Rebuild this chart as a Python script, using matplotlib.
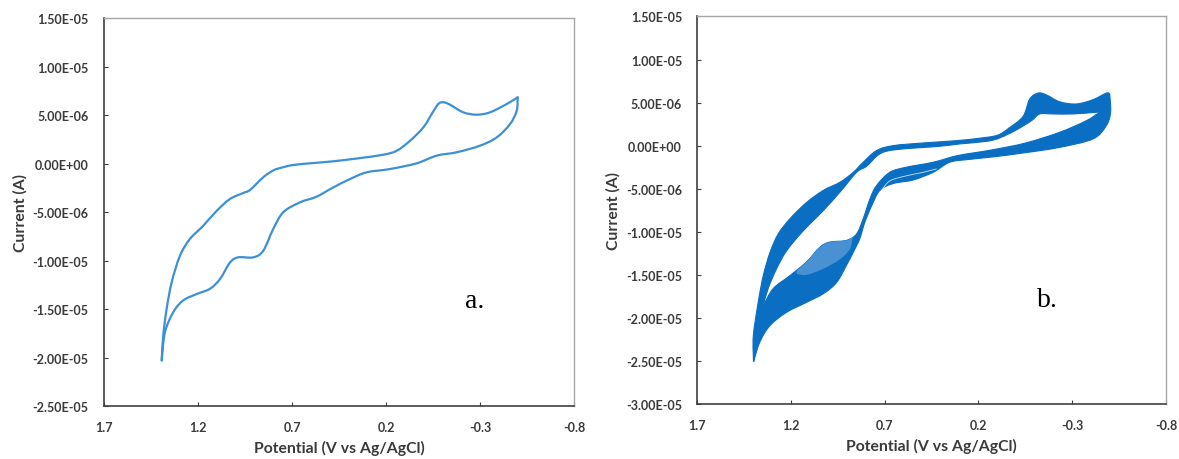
import matplotlib
matplotlib.use("Agg")
import matplotlib.pyplot as plt
from matplotlib.path import Path
from matplotlib.patches import PathPatch
import numpy as np

# ---------------- data (potential in V, current in microamps) ----------------
# (a) single cyclic voltammogram
a_fwd_v = [1.393, 1.385, 1.367, 1.34, 1.296, 1.243, 1.172, 1.1, 1.03, 0.959, 0.923,
           0.853, 0.8, 0.764, 0.693, 0.58, 0.48, 0.35, 0.214, 0.143, 0.072, 0.001,
           -0.043, -0.078, -0.105, -0.14, -0.211, -0.282, -0.353, -0.442, -0.5]
a_fwd_i = [-20.3, -17.75, -15.0, -12.24, -9.5, -7.77, -6.4, -4.85, -3.64, -3.02, -2.7,
           -1.4, -0.7, -0.45, -0.13, 0.08, 0.25, 0.55, 0.93, 1.34, 2.37, 3.76,
           5.13, 6.16, 6.34, 6.09, 5.3, 5.06, 5.3, 6.16, 6.85]
a_rev_v = [-0.5, -0.495, -0.46, -0.389, -0.3, -0.176, -0.069, 0.037, 0.179, 0.303,
           0.391, 0.48, 0.569, 0.657, 0.746, 0.8, 0.853, 0.906, 0.986, 1.03, 1.083,
           1.136, 1.207, 1.278, 1.331, 1.376, 1.393]
a_rev_i = [6.85, 5.47, 4.1, 2.72, 1.86, 1.18, 0.83, 0.04, -0.55, -0.89,
           -1.58, -2.44, -3.4, -3.98, -5.0, -6.74, -8.98, -9.66, -9.66, -10.2, -11.9,
           -12.9, -13.45, -14.1, -15.3, -17.4, -20.3]

# (b) repeated cycling: edges of the band traced by all scans
b_up_outer_v = [1.40, 1.401, 1.375, 1.348, 1.312, 1.268, 1.206, 1.117, 1.028, 0.939,
                0.868, 0.815, 0.744, 0.655, 0.495, 0.317, 0.20, 0.10, 0.04, -0.038,
                -0.073, -0.118, -0.162, -0.233, -0.322, -0.411, -0.482, -0.50]
b_up_outer_i = [-25.1, -22.1, -18.2, -15.1, -12.4, -10.25, -8.5, -6.6, -5.2, -4.25,
                -3.1, -1.93, -0.58, 0.0, 0.31, 0.58, 0.85, 1.2, 2.0, 3.4,
                5.4, 6.1, 5.9, 5.1, 4.84, 5.34, 6.1, 6.0]
b_up_inner_v = [1.348, 1.322, 1.277, 1.223, 1.135, 1.028, 0.939, 0.85, 0.797, 0.726,
                0.637, 0.406, 0.3, 0.157, 0.086, 0.0, -0.083, -0.127, -0.198, -0.304,
                -0.429, -0.447]
b_up_inner_i = [-18.6, -16.6, -14.3, -12.2, -9.9, -7.55, -5.4, -3.1, -2.4, -0.96,
                -0.46, -0.07, 0.2, 0.5, 0.9, 1.8, 2.9, 3.68, 3.68, 3.68,
                3.88, 3.9]
b_dn_inner_v = [-0.447, -0.376, -0.233, -0.05, 0.13, 0.31, 0.442, 0.584, 0.673, 0.744,
                0.779, 0.815, 0.85, 0.904, 0.993, 1.046, 1.117, 1.206, 1.295, 1.348]
b_dn_inner_i = [3.9, 2.9, 1.55, 0.3, -0.5, -1.15, -1.93, -2.5, -3.1, -4.65,
                -6.2, -8.5, -10.25, -11.0, -11.2, -11.8, -13.5, -15.1, -16.6, -18.6]
b_dn_outer_v = [-0.50, -0.505, -0.482, -0.411, -0.233, -0.056, 0.12, 0.25, 0.353, 0.442,
                0.55, 0.655, 0.726, 0.77, 0.806, 0.833, 0.859, 0.904, 0.957, 1.028,
                1.117, 1.223, 1.312, 1.366, 1.40]
b_dn_outer_i = [6.0, 3.9, 2.32, 0.78, -0.2, -0.8, -1.3, -1.6, -1.93, -3.1,
                -4.0, -4.4, -5.2, -7.0, -8.9, -10.8, -12.0, -13.9, -15.9, -17.2,
                -18.2, -19.35, -20.9, -22.8, -25.1]
# loosely packed scans inside the lower band (upper and lower limits)
b_sparse_top_v = [0.87, 0.904, 0.993, 1.046, 1.117, 1.17]
b_sparse_top_i = [-10.6, -11.0, -11.2, -11.8, -13.5, -14.5]
b_sparse_bot_v = [1.17, 1.117, 1.028, 0.939, 0.886, 0.87]
b_sparse_bot_i = [-14.9, -15.0, -14.3, -13.2, -12.0, -10.6]
# gap between separated scans near the second reduction wave
b_gap_v = [0.72, 0.673, 0.584, 0.495, 0.424]
b_gap_i = [-5.3, -4.1, -3.5, -3.1, -2.7]

x_ticks = [1.7, 1.2, 0.7, 0.2, -0.3, -0.8]
x_tick_labels = ["1.7", "1.2", "0.7", "0.2", "-0.3", "-0.8"]
a_yticks = [1.5e-5, 1.0e-5, 5.0e-6, 0.0, -5.0e-6, -1.0e-5, -1.5e-5, -2.0e-5, -2.5e-5]
b_yticks = [1.5e-5, 1.0e-5, 5.0e-6, 0.0, -5.0e-6, -1.0e-5, -1.5e-5, -2.0e-5, -2.5e-5, -3.0e-5]

UA = 1e-6
LINE_BLUE = "#3d8fd6"
FILL_BLUE = "#0a6fc2"
plt.rcParams["hatch.color"] = FILL_BLUE
plt.rcParams["hatch.linewidth"] = 0.9


def smooth_segments(xs, ys):
    """Cubic Bezier path (Catmull-Rom tangents) through the given points."""
    pts = np.column_stack([xs, ys])
    n = len(pts)
    verts = [pts[0]]
    codes = [Path.MOVETO]
    for k in range(n - 1):
        p0 = pts[k - 1] if k > 0 else pts[k]
        p1, p2 = pts[k], pts[k + 1]
        p3 = pts[k + 2] if k + 2 < n else pts[k + 1]
        verts += [p1 + (p2 - p0) / 6.0, p2 - (p3 - p1) / 6.0, p2]
        codes += [Path.CURVE4] * 3
    return verts, codes


def curve_patch(v, i, color, lw, **kw):
    verts, codes = smooth_segments(np.array(v), np.array(i) * UA)
    return PathPatch(Path(verts, codes), fill=False, edgecolor=color, lw=lw,
                     capstyle="round", joinstyle="round", **kw)


def band_patch(v1, i1, v2, i2, **kw):
    va, ca = smooth_segments(np.array(v1), np.array(i1) * UA)
    vb, cb = smooth_segments(np.array(v2), np.array(i2) * UA)
    cb = [Path.LINETO] + cb[1:]
    verts = va + vb + [va[0]]
    codes = ca + cb + [Path.CLOSEPOLY]
    return PathPatch(Path(verts, codes), **kw)


fig = plt.figure(figsize=(11.79, 4.60), dpi=100)
ax_a = fig.add_axes([0.0882, 0.1152, 0.3987, 0.8428])
ax_b = fig.add_axes([0.5914, 0.1196, 0.3975, 0.8424])

tick_font = dict(family=["Lato", "DejaVu Sans"], size=9, weight="bold", color="#3a3a3a")
label_font = dict(family=["Lato", "DejaVu Sans"], size=11.3, weight="bold", color="#3a3a3a")


def style_axes(ax, yticks, ylim):
    ax.set_xlim(1.7, -0.8)
    ax.set_ylim(*ylim)
    ax.set_xticks(x_ticks)
    ax.set_xticklabels(x_tick_labels, **tick_font)
    ax.set_yticks(yticks)
    ax.set_yticklabels([f"{v:.2E}" for v in yticks], **tick_font)
    ax.tick_params(direction="in", length=3, width=0.8, color="#404040")
    ax.tick_params(axis="y", pad=11)
    ax.tick_params(axis="x", pad=11)
    for side in ("left", "bottom"):
        ax.spines[side].set_color("#404040")
        ax.spines[side].set_linewidth(1.2)
    for side in ("top", "right"):
        ax.spines[side].set_color("#a6a6a6")
        ax.spines[side].set_linewidth(1.0)
    ax.set_xlabel("Potential (V vs Ag/AgCl)", labelpad=5, **label_font)
    ax.set_ylabel("Current (A)", labelpad=4, **label_font)


# (a)
ax_a.add_patch(curve_patch(a_fwd_v, a_fwd_i, LINE_BLUE, 1.6))
ax_a.add_patch(curve_patch(a_rev_v, a_rev_i, LINE_BLUE, 1.6))
style_axes(ax_a, a_yticks, (-2.5e-5, 1.5e-5))
ax_a.text(-0.27, -14.1 * UA, "a.", family=["Liberation Serif"], size=20,
          ha="center", va="center", color="black")

# (b)
ax_b.add_patch(band_patch(b_up_outer_v, b_up_outer_i, b_up_inner_v[::-1], b_up_inner_i[::-1],
                          facecolor=FILL_BLUE, edgecolor=FILL_BLUE, lw=0.8))
ax_b.add_patch(band_patch(b_dn_outer_v, b_dn_outer_i, b_dn_inner_v[::-1], b_dn_inner_i[::-1],
                          facecolor=FILL_BLUE, edgecolor=FILL_BLUE, lw=0.8))
ax_b.add_patch(band_patch(b_sparse_top_v, b_sparse_top_i, b_sparse_bot_v, b_sparse_bot_i,
                          facecolor="#4a91d3", edgecolor="none", hatch="-----", lw=0))
ax_b.add_patch(curve_patch(b_gap_v, b_gap_i, "white", 0.6, alpha=0.8))
style_axes(ax_b, b_yticks, (-3.0e-5, 1.5e-5))
ax_b.text(-0.17, -17.9 * UA, "b.", family=["Liberation Serif"], size=20,
          ha="center", va="center", color="black")

fig.savefig("out.png", dpi=100)
